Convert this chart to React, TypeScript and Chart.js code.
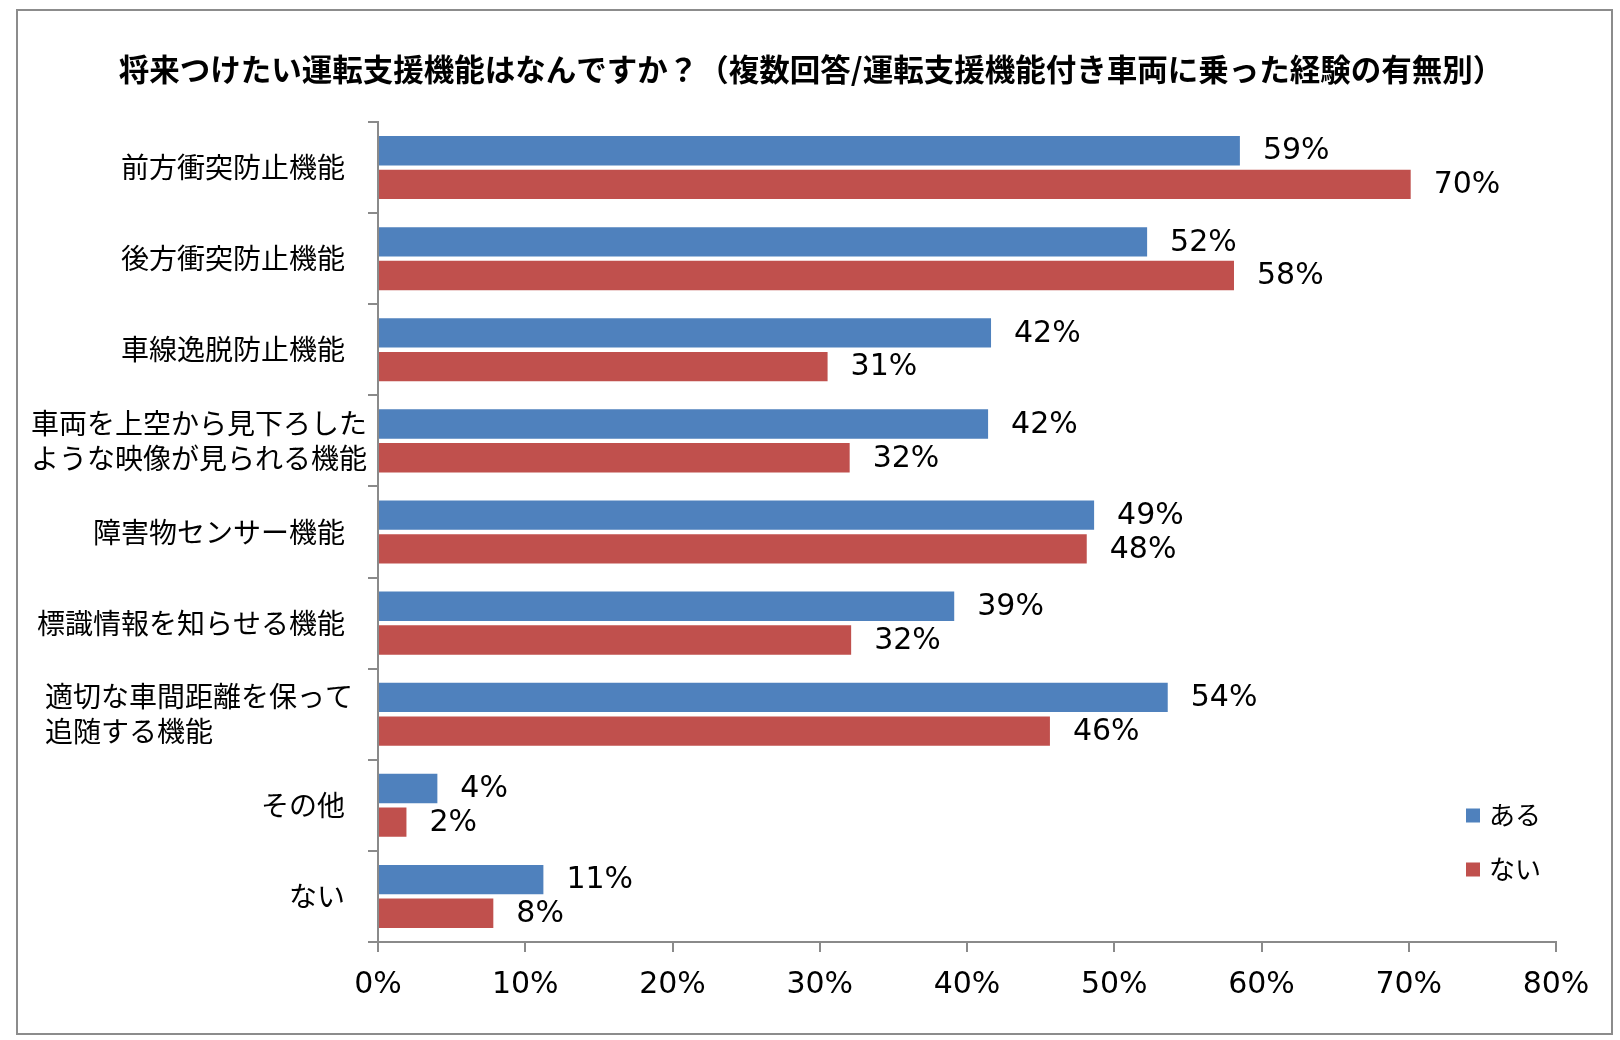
import React, { useEffect, useRef } from "react";
import { Chart, registerables } from "chart.js";

Chart.register(...registerables);

const chartTitle =
  "将来つけたい運転支援機能はなんですか？（複数回答/運転支援機能付き車両に乗った経験の有無別）";

const categories: (string | string[])[] = [
  "前方衝突防止機能",
  "後方衝突防止機能",
  "車線逸脱防止機能",
  ["車両を上空から見下ろした", "ような映像が見られる機能"],
  "障害物センサー機能",
  "標識情報を知らせる機能",
  ["適切な車間距離を保って", "追随する機能"],
  "その他",
  "ない",
];

const seriesNames = ["ある", "ない"];
const aruValues = [58.6, 52.3, 41.7, 41.5, 48.7, 39.2, 53.7, 4.1, 11.3];
const naiValues = [70.2, 58.2, 30.6, 32.1, 48.2, 32.2, 45.7, 2.0, 7.9];
const seriesColors = ["#4F81BD", "#C0504D"];

const xMin = 0;
const xMax = 80;
const xStep = 10;

const JP = "'Noto Sans CJK JP', sans-serif";
const NUM = "'DejaVu Sans', 'Noto Sans CJK JP', sans-serif";
const AXIS_GRAY = "#8a8a8a";

const framePlugin = {
  id: "frame",
  beforeDraw(chart: any) {
    const { ctx, width, height } = chart;
    ctx.save();
    ctx.fillStyle = "#ffffff";
    ctx.fillRect(0, 0, width, height);
    ctx.strokeStyle = "#8c8c8c";
    ctx.lineWidth = 2;
    ctx.strokeRect(17, 10, 1595, 1024);
    ctx.fillStyle = "#000000";
    ctx.font = `bold 30.5px ${JP}`;
    ctx.textAlign = "center";
    ctx.textBaseline = "middle";
    ctx.fillText(chartTitle, 811, 69);
    ctx.restore();
  },
};

const labelsPlugin = {
  id: "customLabels",
  afterDraw(chart: any) {
    const { ctx } = chart;
    const yScale = chart.scales.y;
    ctx.save();
    ctx.fillStyle = "#000000";
    ctx.font = `28px ${JP}`;
    ctx.textBaseline = "middle";
    categories.forEach((cat, i) => {
      const cy = yScale.getPixelForValue(i);
      if (Array.isArray(cat)) {
        const widths = cat.map((l) => ctx.measureText(l).width);
        const blockW = Math.max(...widths);
        const left = 199 - blockW / 2;
        const lh = 35;
        ctx.textAlign = "left";
        cat.forEach((line, k) => {
          ctx.fillText(line, left, cy + (k - (cat.length - 1) / 2) * lh);
        });
      } else {
        ctx.textAlign = "right";
        ctx.fillText(cat, 345, cy);
      }
    });

    // data labels
    ctx.font = `30px ${NUM}`;
    ctx.textAlign = "left";
    chart.data.datasets.forEach((ds: any, di: number) => {
      const meta = chart.getDatasetMeta(di);
      meta.data.forEach((el: any, j: number) => {
        const v = ds.data[j];
        ctx.fillText(`${Math.round(v)}%`, el.x + 22, el.y + 1);
      });
    });

    // legend
    const legendX = 1466;
    const legendY = [815.5, 869.5];
    chart.data.datasets.forEach((ds: any, di: number) => {
      ctx.fillStyle = ds.backgroundColor;
      ctx.fillRect(legendX, legendY[di] - 7, 14, 14);
      ctx.fillStyle = "#000000";
      ctx.font = `26px ${JP}`;
      ctx.textAlign = "left";
      ctx.fillText(ds.label, legendX + 23, legendY[di]);
    });
    ctx.restore();
  },
};

export default function App() {
  const canvasRef = useRef<HTMLCanvasElement | null>(null);

  useEffect(() => {
    if (!canvasRef.current) return;
    const chart = new Chart(canvasRef.current, {
      type: "bar",
      data: {
        labels: categories as any,
        datasets: [
          {
            label: seriesNames[0],
            data: aruValues,
            backgroundColor: seriesColors[0],
            borderColor: "rgba(255,255,255,0.3)",
            borderWidth: 1,
            categoryPercentage: 0.74,
            barPercentage: 0.93,
          },
          {
            label: seriesNames[1],
            data: naiValues,
            backgroundColor: seriesColors[1],
            borderColor: "rgba(255,255,255,0.3)",
            borderWidth: 1,
            categoryPercentage: 0.74,
            barPercentage: 0.93,
          },
        ],
      },
      options: {
        indexAxis: "y",
        responsive: false,
        animation: false,
        layout: { padding: { left: 17, right: 64, top: 122, bottom: 6 } },
        plugins: {
          legend: { display: false },
          title: { display: false },
          tooltip: { enabled: false },
        },
        scales: {
          x: {
            type: "linear",
            min: xMin,
            max: xMax,
            afterFit: (scale: any) => {
              scale.height = 92;
            },
            ticks: {
              stepSize: xStep,
              color: "#000000",
              font: { family: NUM, size: 30 },
              padding: 15,
              callback: (v: any) => `${v}%`,
            },
            grid: {
              drawOnChartArea: false,
              drawTicks: true,
              tickLength: 10,
              color: AXIS_GRAY,
              lineWidth: 2,
            },
            border: { display: true, color: AXIS_GRAY, width: 2 },
          },
          y: {
            type: "category",
            position: "left",
            afterFit: (scale: any) => {
              scale.width = 361;
            },
            ticks: { display: false },
            grid: {
              offset: true,
              drawOnChartArea: false,
              drawTicks: true,
              tickLength: 10,
              color: AXIS_GRAY,
              lineWidth: 2,
            },
            border: { display: true, color: AXIS_GRAY, width: 2 },
          },
        },
      } as any,
      plugins: [framePlugin, labelsPlugin],
    });
    return () => chart.destroy();
  }, []);

  return (
    <div style={{ position: "fixed", left: 0, top: 0, width: 1620, height: 1040, background: "#fff" }}>
      <canvas ref={canvasRef} width={1620} height={1040} style={{ display: "block" }} />
    </div>
  );
}
